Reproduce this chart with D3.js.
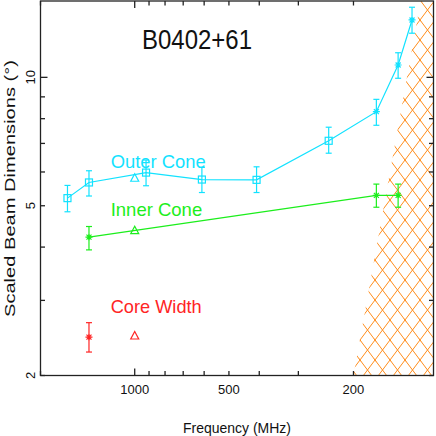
<!DOCTYPE html>
<html>
  <head>
    <title>B0402+61 scaled beam dimensions</title>
    <style>
      body { margin: 0; background: #fff; }
      text { font-family: "Liberation Sans", Arial, sans-serif; }
    </style>
  </head>
  <body>
    <svg width="436" height="436"></svg>
    <script src="https://d3js.org/d3.v7.min.js"></script>
    <script>
      // outer cone: frequency (MHz), dimension, error bar low / high, marker
      var outerFreq = [1640, 1400, 920, 610, 408, 240, 169, 144, 130];
      var outerDim  = [5.21, 5.67, 5.98, 5.76, 5.75, 7.10, 8.31, 10.69, 13.63];
      var outerLo   = [4.84, 5.27, 5.57, 5.37, 5.37, 6.64, 7.72, 9.95, 12.69];
      var outerHi   = [5.58, 6.04, 6.40, 6.15, 6.17, 7.64, 8.88, 11.42, 14.60];
      var outerMark = ['sq', 'sq', 'sq', 'sq', 'sq', 'sq', 'star', 'star', 'star'];

      var innerFreq = [1400, 169, 144];
      var innerDim  = [4.22, 5.29, 5.29];
      var innerLo   = [3.94, 4.96, 4.96];
      var innerHi   = [4.47, 5.62, 5.62];

      var coreFreq = [1400];
      var coreDim  = [2.46];
      var coreLo   = [2.27];
      var coreHi   = [2.66];

      // single triangle points at 1000 MHz
      var triFreq = [1000, 1000, 1000];
      var triDim  = [5.80, 4.37, 2.475];

      // scattering limit edge of the hatched area
      var hatchFreq = [200, 122];
      var hatchDim  = [2, 15.1];

      var xTickLabels = [1000, 500, 200];
      var yTickLabels = [2, 5, 10];

      var cyan = '#12e2ff', green = '#1cee1c', red = '#ff2424', orange = '#ff8c1a';

      var svg = d3.select('svg');
      var plotL = 40.5, plotR = 433.5, plotT = 1, plotB = 375.5;

      var x = d3.scaleLog().domain([2000, 111]).range([plotL, plotR]);
      var y = d3.scaleLog().domain([2, 15.1]).range([plotB, plotT]);

      // hatch pattern
      var defs = svg.append('defs');
      var pat = defs.append('pattern')
        .attr('id', 'hatch')
        .attr('patternUnits', 'userSpaceOnUse')
        .attr('width', 15).attr('height', 20);
      pat.append('path')
        .attr('d', 'M0 0 L15 20 M15 0 L0 20 M-1 -1.33 L1 1.33 M14 18.67 L16 21.33')
        .attr('stroke', orange).attr('stroke-width', 1).attr('fill', 'none');

      defs.append('clipPath').attr('id', 'plotClip')
        .append('rect')
          .attr('x', plotL).attr('y', plotT)
          .attr('width', plotR - plotL).attr('height', plotB - plotT);

      var hatchPoly = [
        [x(hatchFreq[0]), y(hatchDim[0])],
        [x(hatchFreq[1]), y(hatchDim[1])],
        [plotR, y(hatchDim[1])],
        [plotR, y(hatchDim[0])]
      ];
      svg.append('path')
        .attr('clip-path', 'url(#plotClip)')
        .attr('d', 'M' + hatchPoly.join('L') + 'Z')
        .attr('fill', 'url(#hatch)');

      // axes box and ticks
      var ax = svg.append('g').attr('stroke', '#222').attr('stroke-width', 1.3);
      ax.append('rect')
        .attr('x', plotL).attr('y', plotT)
        .attr('width', plotR - plotL).attr('height', plotB - plotT)
        .attr('fill', 'none');

      var xTicks = [2000, 1000, 900, 800, 700, 600, 500, 400, 300, 200];
      xTicks.forEach(function(t) {
        var len = (t === 1000) ? 7 : 4.5;
        ax.append('line').attr('x1', x(t)).attr('x2', x(t)).attr('y1', plotB).attr('y2', plotB - len);
        ax.append('line').attr('x1', x(t)).attr('x2', x(t)).attr('y1', plotT).attr('y2', plotT + len);
      });
      var yTicks = [2, 3, 4, 5, 6, 7, 8, 9, 10];
      yTicks.forEach(function(t) {
        var len = (t === 10) ? 7 : 4.5;
        ax.append('line').attr('y1', y(t)).attr('y2', y(t)).attr('x1', plotL).attr('x2', plotL + len);
        ax.append('line').attr('y1', y(t)).attr('y2', y(t)).attr('x1', plotR).attr('x2', plotR - len);
      });

      svg.selectAll('.xlab').data(xTickLabels).enter()
        .append('text')
          .attr('x', function(d) { return x(d); })
          .attr('y', 393.5)
          .attr('text-anchor', 'middle')
          .attr('font-size', 13)
          .attr('fill', '#111')
          .text(function(d) { return d; });

      svg.selectAll('.ylab').data(yTickLabels).enter()
        .append('text')
          .attr('transform', function(d) { return 'translate(34.5,' + y(d) + ') rotate(-90)'; })
          .attr('text-anchor', 'middle')
          .attr('font-size', 13)
          .attr('fill', '#111')
          .text(function(d) { return d; });

      svg.append('text')
        .attr('x', 237).attr('y', 433)
        .attr('text-anchor', 'middle')
        .attr('font-size', 14)
        .attr('textLength', 108).attr('lengthAdjust', 'spacingAndGlyphs')
        .attr('fill', '#111')
        .text('Frequency (MHz)');

      svg.append('text')
        .attr('transform', 'translate(15,188.5) rotate(-90)')
        .attr('text-anchor', 'middle')
        .attr('font-size', 15.5)
        .attr('textLength', 257).attr('lengthAdjust', 'spacingAndGlyphs')
        .attr('fill', '#111')
        .text('Scaled Beam Dimensions (\u00b0)');

      svg.append('text')
        .attr('x', 142).attr('y', 48.5)
        .attr('font-size', 27)
        .attr('textLength', 110).attr('lengthAdjust', 'spacingAndGlyphs')
        .attr('fill', '#111')
        .text('B0402+61');

      // series
      function drawSeries(freq, dim, lo, hi, marks, color, connect) {
        var g = svg.append('g').attr('stroke', color).attr('fill', 'none').attr('stroke-width', 1.2);
        if (connect) {
          g.append('path')
            .attr('d', d3.line()
              .x(function(d, i) { return x(freq[i]); })
              .y(function(d) { return y(d); })(dim));
        }
        dim.forEach(function(v, i) {
          var px = x(freq[i]), py = y(v);
          g.append('line').attr('x1', px).attr('x2', px).attr('y1', y(lo[i])).attr('y2', y(hi[i]));
          g.append('line').attr('x1', px - 3).attr('x2', px + 3).attr('y1', y(lo[i])).attr('y2', y(lo[i]));
          g.append('line').attr('x1', px - 3).attr('x2', px + 3).attr('y1', y(hi[i])).attr('y2', y(hi[i]));
          if (marks[i] === 'sq') {
            g.append('rect').attr('x', px - 3.5).attr('y', py - 3.5).attr('width', 7).attr('height', 7);
          } else {
            g.append('path')
              .attr('d', 'M' + (px - 3.5) + ' ' + py + 'h7' +
                         'M' + (px - 2.5) + ' ' + (py - 2.5) + 'l5 5' +
                         'M' + (px + 2.5) + ' ' + (py - 2.5) + 'l-5 5' +
                         'M' + px + ' ' + (py - 3) + 'v6');
          }
        });
      }

      drawSeries(outerFreq, outerDim, outerLo, outerHi, outerMark, cyan, true);
      drawSeries(innerFreq, innerDim, innerLo, innerHi, ['star', 'star', 'star'], green, true);
      drawSeries(coreFreq, coreDim, coreLo, coreHi, ['star'], red, false);

      var triColors = [cyan, green, red];
      triDim.forEach(function(v, i) {
        var px = x(triFreq[i]), py = y(v);
        svg.append('path')
          .attr('d', 'M' + (px - 4) + ' ' + (py + 3) + 'L' + (px + 4) + ' ' + (py + 3) + 'L' + px + ' ' + (py - 4.5) + 'Z')
          .attr('fill', 'none')
          .attr('stroke', triColors[i])
          .attr('stroke-width', 1.2);
      });

      // series labels
      var labels = [
        { text: 'Outer Cone', y: 168.3, w: 95, c: cyan },
        { text: 'Inner Cone', y: 216, w: 91.5, c: green },
        { text: 'Core Width', y: 313.3, w: 91, c: red }
      ];
      svg.selectAll('.serlab').data(labels).enter()
        .append('text')
          .attr('x', 110.7)
          .attr('y', function(d) { return d.y; })
          .attr('font-size', 19)
          .attr('textLength', function(d) { return d.w; })
          .attr('lengthAdjust', 'spacingAndGlyphs')
          .attr('fill', function(d) { return d.c; })
          .text(function(d) { return d.text; });
    </script>
  </body>
</html>
